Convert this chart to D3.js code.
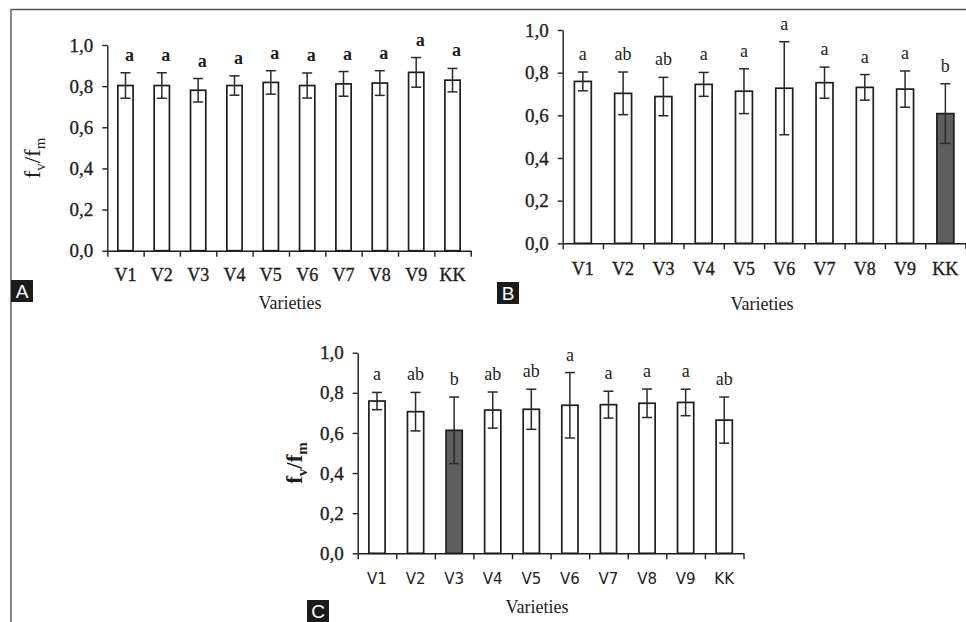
<!DOCTYPE html>
<html>
<head>
<meta charset="utf-8">
<script src="https://cdn.jsdelivr.net/npm/d3@7"></script>
<style>
body{margin:0;background:#fff;}
svg{display:block;}
.serif{font-family:"Liberation Serif","DejaVu Serif",serif;}
.sans{font-family:"DejaVu Sans",Verdana,sans-serif;}
.tag{font-family:"Liberation Sans",Arial,sans-serif;}
.heavy{stroke:#1e1e1e;stroke-width:0.35px;}
</style>
</head>
<body>
<svg id="fig" width="966" height="622"></svg>
<script>
// categories and tick values
var varieties=["V1","V2","V3","V4","V5","V6","V7","V8","V9","KK"];
var yTicks=[0,0.2,0.4,0.6,0.8,1.0];

// panel A
var meanA=[0.803,0.803,0.780,0.803,0.818,0.803,0.811,0.815,0.867,0.829];
var errA=[0.062,0.062,0.057,0.047,0.057,0.061,0.060,0.060,0.072,0.057];
var letterA=["a","a","a","a","a","a","a","a","a","a"];
// panel B
var meanB=[0.759,0.703,0.688,0.745,0.713,0.727,0.753,0.731,0.723,0.608];
var errB=[0.044,0.100,0.090,0.056,0.105,0.218,0.073,0.060,0.085,0.140];
var letterB=["a","ab","ab","a","a","a","a","a","a","b"];
// panel C
var meanC=[0.759,0.706,0.613,0.714,0.718,0.738,0.741,0.748,0.752,0.664];
var errC=[0.043,0.096,0.166,0.090,0.100,0.163,0.067,0.071,0.066,0.115];
var letterC=["a","ab","b","ab","ab","a","a","a","a","ab"];

var ink="#1e1e1e";

var svg=d3.select("#fig");

// outer frame (top and left rule)
svg.append("path")
   .attr("d","M11,622V9.5H966")
   .attr("fill","none")
   .attr("stroke","#555")
   .attr("stroke-width",1.4);

var panel=function(p){
  var g=svg.append("g");
  var x=d3.scaleBand()
          .domain(varieties)
          .range([p.left,p.right])
          .paddingInner(0.58)
          .paddingOuter(0.29);
  var xEdge=d3.scaleLinear()
              .domain([0,varieties.length])
              .range([p.left,p.right]);
  var y=d3.scaleLinear()
          .domain([0,1])
          .range([p.bottom,p.top]);
  var data=varieties.map(function(v,i){
    return {name:v,mean:p.mean[i],err:p.err[i],letter:p.letter[i]};
  });
  var bw=x.bandwidth();

  // bars
  g.selectAll("rect.bar")
   .data(data)
   .enter()
   .append("rect")
   .attr("class","bar")
   .attr("x",function(d){return x(d.name);})
   .attr("y",function(d){return y(d.mean);})
   .attr("width",bw)
   .attr("height",function(d){return y(0)-y(d.mean);})
   .attr("fill",function(d){return d.name==p.dark?"#5e5e5e":"#fff";})
   .attr("stroke",ink)
   .attr("stroke-width",1.7);

  // error bars
  var eb=g.selectAll("g.err")
          .data(data)
          .enter()
          .append("g")
          .attr("class","err")
          .attr("stroke","#2a2a2a")
          .attr("stroke-width",1.5);
  eb.append("line")
    .attr("x1",function(d){return x(d.name)+bw/2;})
    .attr("x2",function(d){return x(d.name)+bw/2;})
    .attr("y1",function(d){return y(d.mean+d.err);})
    .attr("y2",function(d){return y(d.mean-d.err);});
  eb.append("line")
    .attr("x1",function(d){return x(d.name)+bw/2-5;})
    .attr("x2",function(d){return x(d.name)+bw/2+5;})
    .attr("y1",function(d){return y(d.mean+d.err);})
    .attr("y2",function(d){return y(d.mean+d.err);});
  eb.append("line")
    .attr("x1",function(d){return x(d.name)+bw/2-5;})
    .attr("x2",function(d){return x(d.name)+bw/2+5;})
    .attr("y1",function(d){return y(d.mean-d.err);})
    .attr("y2",function(d){return y(d.mean-d.err);});

  // significance letters
  g.selectAll("text.sig")
   .data(data)
   .enter()
   .append("text")
   .attr("class","sig serif")
   .attr("x",function(d){return x(d.name)+bw/2+p.letterDx;})
   .attr("y",function(d){return y(d.mean+d.err)-12;})
   .attr("text-anchor","middle")
   .style("font-size","18px")
   .style("font-weight",p.letterBold?"bold":"normal")
   .attr("fill",ink)
   .text(function(d){return d.letter;});

  // y axis
  var yAxis=d3.axisLeft(y)
              .tickValues(yTicks)
              .tickSize(5)
              .tickSizeOuter(0)
              .tickPadding(9)
              .tickFormat(function(d){return d.toFixed(1).replace(".",",");});
  var ya=g.append("g")
          .attr("transform","translate("+p.left+",0)")
          .call(yAxis)
          .attr("color",ink);
  ya.selectAll("text").attr("class","serif heavy").style("font-size","19px");
  ya.selectAll("path,line").attr("stroke-width",1.4);

  // x axis line with boundary ticks
  var edgeAxis=d3.axisBottom(xEdge)
                 .tickValues(d3.range(varieties.length+1))
                 .tickSize(6)
                 .tickSizeOuter(0)
                 .tickFormat("");
  g.append("g")
   .attr("transform","translate(0,"+p.bottom+")")
   .call(edgeAxis)
   .attr("color",ink)
   .selectAll("path,line").attr("stroke-width",1.4);

  // category labels
  var xAxis=d3.axisBottom(x).tickSize(0).tickPadding(p.labelPad);
  var xl=g.append("g")
          .attr("transform","translate(0,"+p.bottom+")")
          .call(xAxis)
          .attr("color",ink);
  xl.select(".domain").remove();
  xl.selectAll("text")
    .attr("class",p.labelFont=="serif"?"serif heavy":"sans")
    .style("font-size",p.labelSize+"px");

  // axis title
  g.append("text")
   .attr("class","serif")
   .attr("x",p.titleX)
   .attr("y",p.titleY)
   .attr("text-anchor","middle")
   .style("font-size","18px")
   .attr("fill",ink)
   .text("Varieties");

  // y title f_v/f_m
  if(p.yTitle){
    var t=g.append("text")
           .attr("class","serif")
           .attr("transform","translate("+p.yTitle[0]+","+p.yTitle[1]+") rotate(-90)")
           .attr("text-anchor","middle")
           .style("font-size","23px")
           .style("font-weight",p.yBold?"bold":"normal")
           .attr("fill",ink);
    t.append("tspan").text("f");
    t.append("tspan").attr("dy",5).style("font-size","15px").text("v");
    t.append("tspan").attr("dy",-5).text("/f");
    t.append("tspan").attr("dy",5).style("font-size","15px").text("m");
  }

  // panel tag
  svg.append("rect")
     .attr("x",p.tag[0]).attr("y",p.tag[1])
     .attr("width",22).attr("height",22)
     .attr("fill","#1b1b1b");
  svg.append("text")
     .attr("class","tag")
     .attr("x",p.tag[0]+11).attr("y",p.tag[1]+18)
     .attr("text-anchor","middle")
     .style("font-size","19px")
     .attr("fill","#fff")
     .text(p.name);
};

panel({name:"A",mean:meanA,err:errA,letter:letterA,
       left:107.3,right:470.7,top:45,bottom:250.7,
       letterDx:4,letterBold:true,dark:null,
       labelFont:"serif",labelSize:18,labelPad:18,
       titleX:290,titleY:309,yTitle:[40,158],yBold:false,tag:[11,280]});

panel({name:"B",mean:meanB,err:errB,letter:letterB,
       left:562.7,right:965.5,top:30,bottom:243.3,
       letterDx:0,letterBold:false,dark:"KK",
       labelFont:"serif",labelSize:18,labelPad:19,
       titleX:762,titleY:310,yTitle:null,tag:[497,282]});

panel({name:"C",mean:meanC,err:errC,letter:letterC,
       left:357.7,right:743.5,top:352.7,bottom:553.3,
       letterDx:0,letterBold:false,dark:"V3",
       labelFont:"sans",labelSize:15,labelPad:20,
       titleX:537,titleY:613,yTitle:[302,463],yBold:true,tag:[307,600]});
</script>
</body>
</html>
